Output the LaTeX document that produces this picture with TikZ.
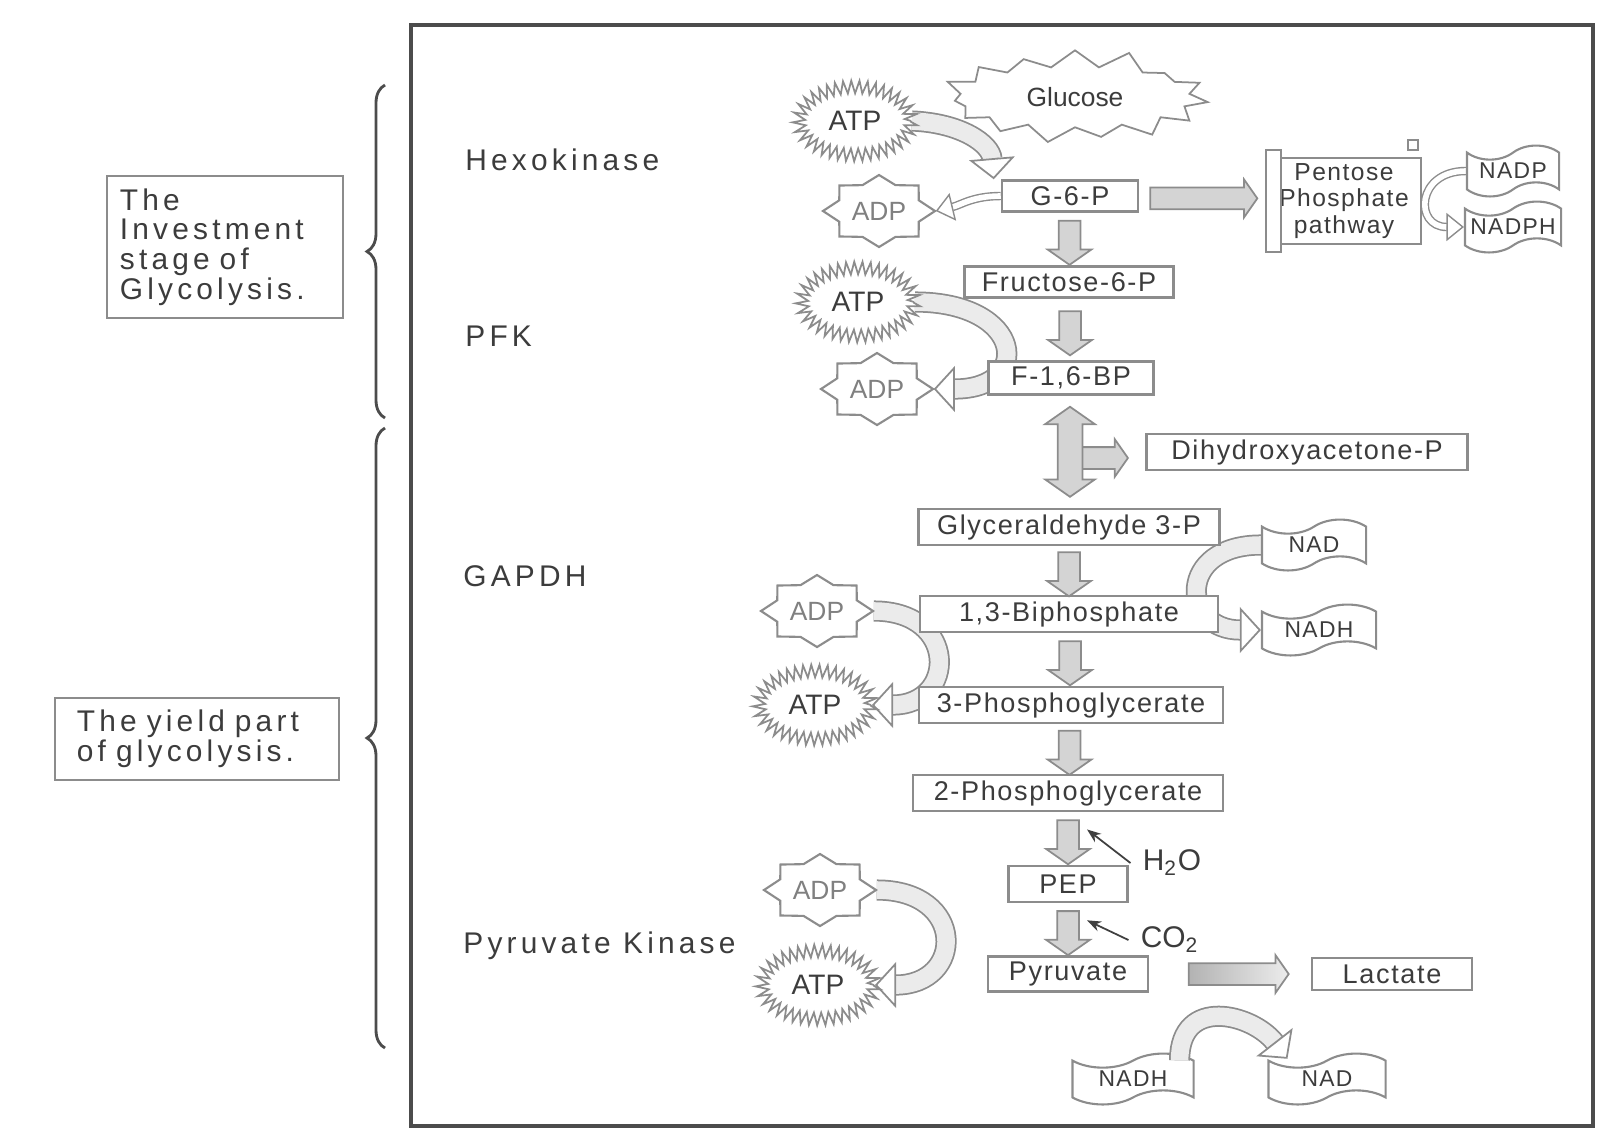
\documentclass[tikz,border=0pt]{standalone}
\usepackage{fontspec}
\setmainfont{Liberation Sans}
\newfontfamily\boxfam[LetterSpace=6]{Liberation Sans}
\newfontfamily\widefam[LetterSpace=14]{Liberation Sans}
\usetikzlibrary{shapes.geometric,shapes.symbols,shapes.arrows,arrows.meta,
  decorations.pathmorphing,decorations.pathreplacing,calc,backgrounds}

\definecolor{lineGray}{RGB}{140,140,140}
\definecolor{textGray}{RGB}{60,60,60}
\definecolor{fillGray}{RGB}{212,212,212}
\definecolor{bandGray}{RGB}{235,235,235}

\newcommand\chemfont{\boxfam\fontsize{7.7}{9}\selectfont}
\newcommand\tapefont{\boxfam\fontsize{6.5}{8}\selectfont}
\newcommand\nucfont{\fontsize{8}{9}\selectfont}
\newcommand\sidefont{\widefam\fontsize{8.5}{8.4}\selectfont}
% eight point star round a named node
\newcommand\adpstar[1]{%
  \draw[starline] ([shift={(#1.center)}]0:0.56cm and 0.36cm)
    \foreach \a in {0,45,...,315}{
      -- ([shift={(#1.center)}]\a:0.56cm and 0.36cm)
      -- ([shift={(#1.center)}]\a+22.5:0.43cm and 0.28cm)} -- cycle;}

\begin{document}
\begin{tikzpicture}[x=0.01cm,y=-0.01cm,
  box/.style={draw=lineGray, line width=0.7pt, fill=white, text=textGray,
    font=\chemfont, minimum height=0.31cm, inner sep=1.5pt},
  tapebox/.style={tape, draw=lineGray, line width=0.6pt, fill=white,
    text=textGray, font=\tapefont, tape bend height=4pt, minimum height=0.36cm,
    inner sep=1pt},
  atp/.style={ellipse, draw=lineGray, fill=white, line width=0.5pt, decorate,
    decoration={zigzag, segment length=2.2pt, amplitude=1.8pt},
    minimum width=1.12cm, minimum height=0.68cm, inner sep=0pt,
    text=textGray, font=\nucfont},
  adp/.style={ellipse, minimum width=1.12cm, minimum height=0.72cm,
    inner sep=0pt, text=gray, font=\fontsize{7.5}{9}\selectfont},
  starline/.style={draw=lineGray, fill=white, line width=0.6pt},
  downarr/.style={single arrow, draw=lineGray, fill=fillGray, line width=0.5pt,
    shape border rotate=270, minimum height=0.44cm, minimum width=0.42cm,
    inner sep=0.1cm, single arrow head extend=0.11cm, single arrow tip angle=110},
  rightarr/.style={single arrow, draw=lineGray, fill=fillGray, line width=0.5pt,
    minimum width=0.36cm, inner sep=0.1cm, single arrow head extend=0.08cm,
    single arrow tip angle=110},
  band/.style={draw=lineGray, double=bandGray, double distance=5pt,
    line width=0.5pt, -{Triangle[open,length=6pt,width=13pt]}},
  thinband/.style={draw=lineGray, double=white, double distance=1.6pt,
    line width=0.4pt, -{Triangle[open,length=5pt,width=8pt]}},
  enzyme/.style={anchor=west, font=\sidefont, text=textGray},
  sidebox/.style={draw=lineGray, line width=0.6pt, align=left, font=\sidefont,
    text=textGray, inner sep=2pt},
  brc/.style={draw=black!70, line width=0.8pt, decorate,
    decoration={brace, mirror, amplitude=0.18cm}},
  gas/.style={-{Stealth[length=4pt]}, draw=black!75, line width=0.5pt}]

\useasboundingbox (0,0) rectangle (1598,1133);
\draw[black!70, line width=1pt] (411,25) rectangle (1593,1126);

% stages
\node[sidebox, minimum width=2.36cm, minimum height=1.42cm, text width=2.1cm]
  (invest) at (225,247) {The\\Investment\\stage of\\Glycolysis.};
\node[sidebox, minimum width=2.83cm, minimum height=0.82cm, text width=2.4cm]
  (yield) at (197,739) {The yield part\\of glycolysis.};
\draw[brc] (385,85) -- (385,418);
\draw[brc] (385,428) -- (385,1048);

% enzymes
\node[enzyme] (hk) at (453,160) {Hexokinase};
\node[enzyme] (pfk) at (453,336) {PFK};
\node[enzyme] (gapdh) at (451,576) {GAPDH};
\node[enzyme] (pk) at (451,946) {Pyruvate Kinase};

% main chain
\node[starburst, draw=lineGray, fill=white, line width=0.5pt, starburst points=15,
  starburst point height=0.2cm, minimum width=2.7cm, minimum height=0.3cm,
  random starburst=37, text=textGray, font=\fontsize{7.5}{9}\selectfont]
  (glc) at (1075,97) {Glucose};
\node[box, minimum width=1.36cm] (G6P) at (1070,196) {G-6-P};
\node[box, minimum width=2.09cm] (F6P) at (1069,282) {Fructose-6-P};
\node[box, minimum width=1.65cm, minimum height=0.28cm] (F16BP) at (1071,378) {F-1,6-BP};
\node[box, minimum width=3.21cm, minimum height=0.33cm] (DHAP) at (1307,452) {Dihydroxyacetone-P};
\node[box, minimum width=3.01cm] (G3P) at (1069,527) {Glyceraldehyde 3-P};
\node[box, minimum width=2.98cm] (BP13) at (1069,614) {1,3-Biphosphate};
\node[box, minimum width=3.04cm] (PG3) at (1071,705) {3-Phosphoglycerate};
\node[box, minimum width=3.10cm, minimum height=0.34cm] (PG2) at (1068,793) {2-Phosphoglycerate};
\node[box, minimum width=1.19cm, minimum height=0.36cm] (PEP) at (1068,884) {PEP};
\node[box, minimum width=1.60cm, minimum height=0.32cm] (PYR) at (1068,974) {Pyruvate};
\node[box, minimum width=1.60cm, minimum height=0.32cm] (LAC) at (1392,974) {Lactate};

% pentose branch
\node[box, minimum width=1.54cm, minimum height=0.77cm, align=center,
  font=\boxfam\fontsize{7}{7.6}\selectfont] (PPP) at (1344,201) {Pentose\\Phosphate\\pathway};
\draw[lineGray, line width=0.6pt, fill=white] ([yshift=2pt]PPP.north west)
  rectangle ([xshift=0.15cm,yshift=-2pt]PPP.south west);
\draw[lineGray, line width=0.6pt] ([xshift=-0.14cm,yshift=2pt]PPP.north east)
  rectangle ++(10,-10);
\node[tapebox, minimum width=0.92cm] (NADP) at (1513,171) {NADP};
\node[tapebox, minimum width=0.96cm] (NADPH) at (1513,227) {NADPH};

% cofactors
\node[tapebox, minimum width=1.04cm, minimum height=0.41cm] (NAD) at (1314,545) {NAD};
\node[tapebox, minimum width=1.14cm, minimum height=0.43cm] (NADH) at (1319,630) {NADH};
\node[tapebox, minimum width=1.21cm, minimum height=0.42cm] (NADHb) at (1133,1079) {NADH};
\node[tapebox, minimum width=1.17cm, minimum height=0.42cm] (NADb) at (1327,1079) {NAD};

\node[atp] (ATP1) at (855,121) {ATP};
\node[atp] (ATP2) at (858,302) {ATP};
\node[atp] (ATP3) at (815,705) {ATP};
\node[atp] (ATP4) at (818,985) {ATP};
\node[adp] (ADP1) at (879,211) {};
\node[adp] (ADP2) at (877,389) {};
\node[adp] (ADP3) at (817,611) {};
\node[adp] (ADP4) at (820,890) {};
\foreach \s in {ADP1,ADP2,ADP3,ADP4}{
  \adpstar{\s}
  \node[adp] at (\s) {ADP};
}

% block arrows
\foreach \a/\b/\n in {G6P/F6P/a1, F6P/F16BP/a2, G3P/BP13/a3, BP13/PG3/a4,
  PG3/PG2/a5, PG2/PEP/a6, PEP/PYR/a7}
  \node[downarr] (\n) at ($(\a.south)!.5!(\b.north)$) {};
\node[rightarr, minimum height=0.6cm, anchor=tail] (toDHAP) at (1067,458) {};
\node[double arrow, draw=lineGray, fill=fillGray, line width=0.5pt,
  shape border rotate=90, minimum height=0.9cm, minimum width=0.48cm,
  inner sep=0.115cm, double arrow head extend=0.125cm, double arrow tip angle=110]
  (iso) at ($(F16BP.south)!.5!(G3P.north)$) {};
\node[rightarr, minimum height=1.07cm] (toPPP) at ($(G6P.east)!.48!(PPP.west)$) {};
\node[rightarr, minimum height=1.0cm, left color=gray!60, right color=gray!15]
  (toLAC) at ($(PYR.east)!.53!(LAC.west)$) {};

% water and carbon dioxide
\node[text=textGray, font=\fontsize{8.5}{9}\selectfont] (h2o) at (1172,863) {H\textsubscript{2}O};
\node[text=textGray, font=\fontsize{8.5}{9}\selectfont] (co2) at (1170,940) {CO\textsubscript{2}};
\coordinate (h2oTip) at ($(a6.center)+(19,-9)$);
\coordinate (co2Tip) at ($(a7.center)+(19,-9)$);
\draw[gas] (h2o.west) -- (h2oTip);
\draw[gas] (co2.west) -- (co2Tip);

% turning arrows
\begin{scope}[on background layer]
  \draw[band] (ATP1.east) .. controls +(50,2) and +(-3,-35) .. ([xshift=-0.07cm]G6P.north west);
  \draw[thinband] (G6P.west) .. controls +(-28,0) and +(25,-6) .. (ADP1.east);
  \draw[band] (ATP2.east) .. controls +(110,0) and +(100,0) .. (ADP2.east);
  \draw[band] (ADP3.east) .. controls +(85,0) and +(85,0) .. (ATP3.east);
  \draw[band] (ADP4.east) .. controls +(90,0) and +(90,0) .. (ATP4.east);
  \draw[thinband] (NADP.west) .. controls +(-50,0) and +(-50,0) .. (NADPH.west);
  \draw[band] (NAD.west) .. controls +(-85,0) and +(-80,0) .. (NADH.west);
\end{scope}
\draw[band] ([xshift=-0.15cm]NADHb.north east) .. controls +(0,-65) and +(-35,-45)
  .. ([xshift=0.2cm]NADb.north west);
\end{tikzpicture}
\end{document}
